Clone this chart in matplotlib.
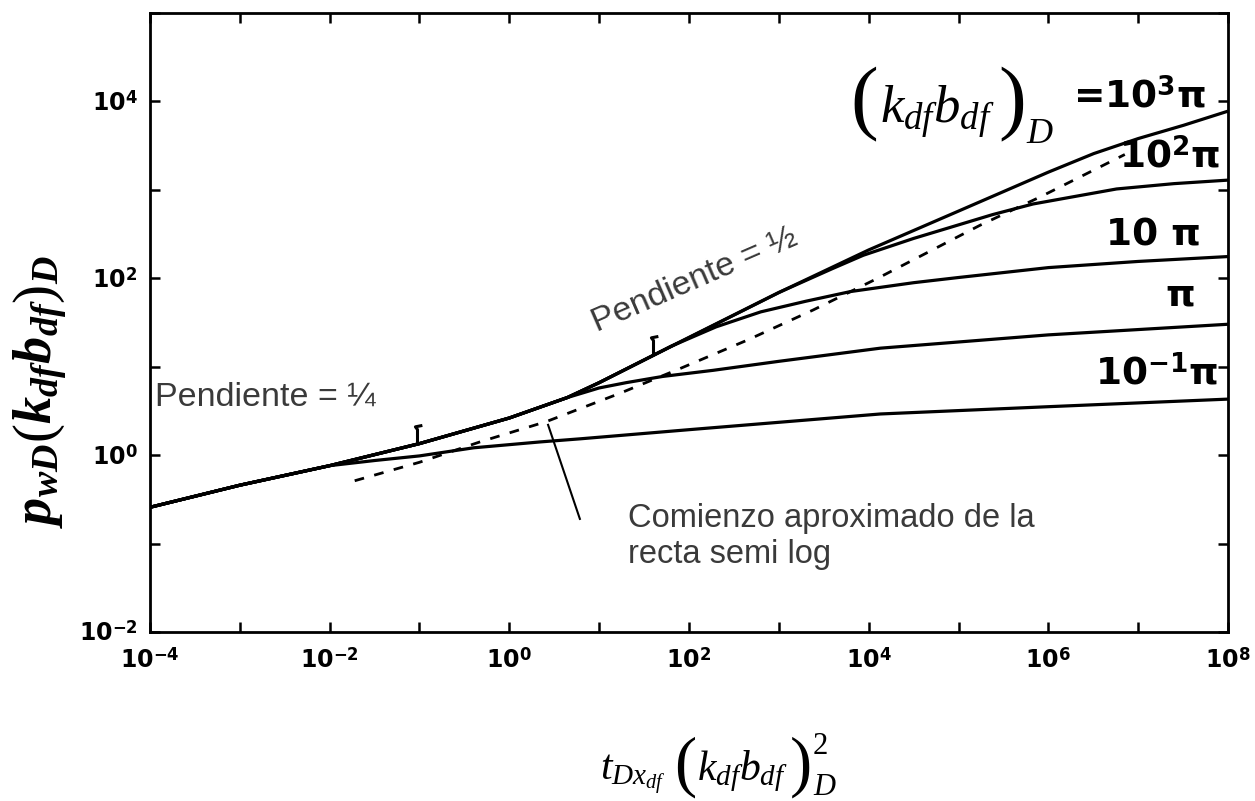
import matplotlib.pyplot as plt
import numpy as np
from matplotlib.path import Path
from matplotlib.ticker import FixedLocator, FuncFormatter, NullLocator
from matplotlib.transforms import IdentityTransform

plt.rcParams['mathtext.fontset'] = 'custom'
plt.rcParams['mathtext.rm'] = 'Liberation Serif'
plt.rcParams['mathtext.it'] = 'Liberation Serif:italic'
plt.rcParams['mathtext.bf'] = 'DejaVu Sans:bold'
plt.rcParams['mathtext.bfit'] = 'Liberation Serif:italic:bold'

# early time, common to every conductivity (slope 1/4)
t_bilinear = [1e-4, 1e-3, 1e-2]
p_bilinear = [0.257, 0.457, 0.76]

# (kdf bdf)D = 10^-1 pi leaves the common branch first
t_c01 = [0.032, 0.1, 0.4, 2.2, 6.2, 100, 1.35e4, 1e6, 1e8]
p_c01 = [0.87, 0.98, 1.21, 1.41, 1.53, 1.94, 2.92, 3.53, 4.3]

# branch shared by pi and above
t_trunk = [0.1, 1.0, 4.4]
p_trunk = [1.35, 2.63, 4.47]

t_c1 = [10, 20, 51, 186, 1e3, 1.35e4, 1e6, 1e8]
p_c1 = [5.75, 6.6, 7.76, 9.1, 11.5, 16.2, 22.9, 30.2]

# slope 1/2 part shared by 10 pi and above
t_linear = [10, 44]
p_linear = [6.6, 14.1]

t_c10 = [63, 200, 630, 2000, 6300, 3.16e4, 1e5, 1e6, 1e7, 1e8]
p_c10 = [17.0, 28.2, 41.7, 55, 70.8, 89.1, 102, 132, 155, 176]

t_linear2 = [100, 1e3]
p_linear2 = [21.4, 69]

t_c100 = [3980, 8710, 3.16e4, 2.4e5, 6.76e5, 5.75e6, 2.5e7, 1e8]
p_c100 = [129, 182, 282, 525, 692, 1023, 1175, 1288]

t_c1000 = [1e4, 1e5, 1e6, 3.2e6, 1e7, 3.2e7, 1e8]
p_c1000 = [209, 575, 1585, 2570, 3800, 5370, 7760]

# start of the semilog straight line (dashed)
t_semilog = [0.019, 0.1, 0.47, 2.6, 17, 79, 447, 2400, 12600, 1.74e5, 8.13e5, 7.1e6]
p_semilog = [0.513, 0.83, 1.41, 2.4, 5.0, 9.5, 20, 43.7, 100, 398, 832, 2510]

# where the slope hooks sit on the curves
hook_t = [0.093, 40]
hook_p = [1.38, 13.8]

curves = {
    "c01": (t_bilinear + t_c01, p_bilinear + p_c01),
    "c1": (t_bilinear + t_trunk + t_c1, p_bilinear + p_trunk + p_c1),
    "c10": (t_bilinear + t_trunk + t_linear + t_c10, p_bilinear + p_trunk + p_linear + p_c10),
    "c100": (t_bilinear + t_trunk + t_linear + t_linear2 + t_c100,
             p_bilinear + p_trunk + p_linear + p_linear2 + p_c100),
    "c1000": (t_bilinear + t_trunk + t_linear + t_linear2 + t_c1000,
              p_bilinear + p_trunk + p_linear + p_linear2 + p_c1000),
}

W, H = 1255, 801
fig = plt.figure(figsize=(W / 100, H / 100), dpi=100)
ax = fig.add_axes([0.1195, 0.211, 0.859, 0.7728])

for name, (t, p) in curves.items():
    ax.plot(t, p, color="black", lw=2.3, solid_capstyle="butt")

ax.plot(t_semilog, p_semilog, color="black", lw=2.0, dashes=(3.5, 3.8))

# pointer from the caption to the dashed line
ax.plot([2.7, 6.1], [2.2, 0.19], color="black", lw=1.5)

hook = Path([(0, 0), (0, 1.0), (-0.15, 1.2), (0.35, 1.3)],
            [Path.MOVETO, Path.LINETO, Path.LINETO, Path.LINETO])
ax.plot(hook_t, hook_p, ls="none", marker=hook, markersize=26,
        markerfacecolor="none", markeredgecolor="black", markeredgewidth=2.2)

ax.set_xscale("log")
ax.set_yscale("log")
ax.set_xlim(1e-4, 1e8)
ax.set_ylim(1e-2, 1e5)


def decade_label(v, pos):
    e = int(round(np.log10(v)))
    if e % 2:
        return ""
    return r"10$^{\mathbf{%d}}$" % e


ax.xaxis.set_major_locator(FixedLocator([10.0 ** e for e in range(-4, 9)]))
ax.yaxis.set_major_locator(FixedLocator([10.0 ** e for e in range(-2, 6)]))
ax.xaxis.set_minor_locator(NullLocator())
ax.yaxis.set_minor_locator(NullLocator())
ax.xaxis.set_major_formatter(FuncFormatter(decade_label))
ax.yaxis.set_major_formatter(FuncFormatter(decade_label))
ax.tick_params(which="major", direction="in", top=True, right=True,
               length=7, width=1.8, labelsize=17)
ax.tick_params(axis="x", pad=12)
ax.tick_params(axis="y", pad=9)
for lab in ax.get_xticklabels() + ax.get_yticklabels():
    lab.set_fontweight("bold")
    lab.set_family("DejaVu Sans")
for s in ax.spines.values():
    s.set_linewidth(2.0)

# curve labels
lab_kw = dict(transform=ax.transAxes, fontsize=27, fontweight="bold",
              family="DejaVu Sans", ha="center", va="center")
ax.text(0.918, 0.863, r"=10$^{\mathbf{3}}$π", **lab_kw)
ax.text(0.946, 0.766, r"10$^{\mathbf{2}}$π", **lab_kw)
ax.text(0.931, 0.641, "10 π", **lab_kw)
ax.text(0.956, 0.544, "π", **lab_kw)
ax.text(0.934, 0.417, r"10$^{\mathbf{-1}}$π", **lab_kw)

renderer = fig.canvas.get_renderer()


def text_run(x, top_y, pieces):
    """Lay out pieces left to right in pixel coordinates (y from the top).
    Each piece: (text, fontsize, gap before, baseline shift down, advance)."""
    for s, size, gap, down, advance in pieces:
        t = fig.text(x + gap, H - top_y - down, s, fontsize=size,
                     family="Liberation Serif", ha="left", va="baseline",
                     transform=IdentityTransform())
        if advance:
            x = t.get_window_extent(renderer).x1


# conductivity label over the curves, tall brackets
text_run(850, 123, [
    ("(", 60, 0, 1, True),
    (r"$k_{df}b_{df}$", 38, 2, 0, True),
    (")", 60, 4, 1, True),
    (r"$D$", 26, 0, 20, True),
])

# x axis title
text_run(600, 780, [
    (r"$t_{Dx_{df}}$", 30, 0, 0, True),
    ("(", 48, 8, 4, True),
    (r"$k_{df}b_{df}$", 30, 1, 0, True),
    (")", 48, 2, 4, True),
    ("2", 22, 1, -26, False),
    (r"$D$", 22, 1, 15, True),
])

gray = "#3a3a3a"
fig.text(0.1235, 0.5044, "Pendiente = ¼", fontsize=24.5, color=gray,
         family="Liberation Sans", ha="left", va="center")
fig.text(0.5538, 0.6504, "Pendiente = ½", fontsize=24.5, color=gray,
         family="Liberation Sans", ha="center", va="center", rotation=23.5)
fig.text(0.5, 0.372, "Comienzo aproximado de la\nrecta semi log", fontsize=23.5,
         color=gray, family="Liberation Sans", ha="left", va="top",
         linespacing=1.22)

fig.text(0.032, 0.511, r"$\mathbfit{p_{wD}\left(k_{df}b_{df}\right)_{D}}$",
         fontsize=39, ha="center", va="center", rotation=90)

fig.savefig("out.png", dpi=100)
